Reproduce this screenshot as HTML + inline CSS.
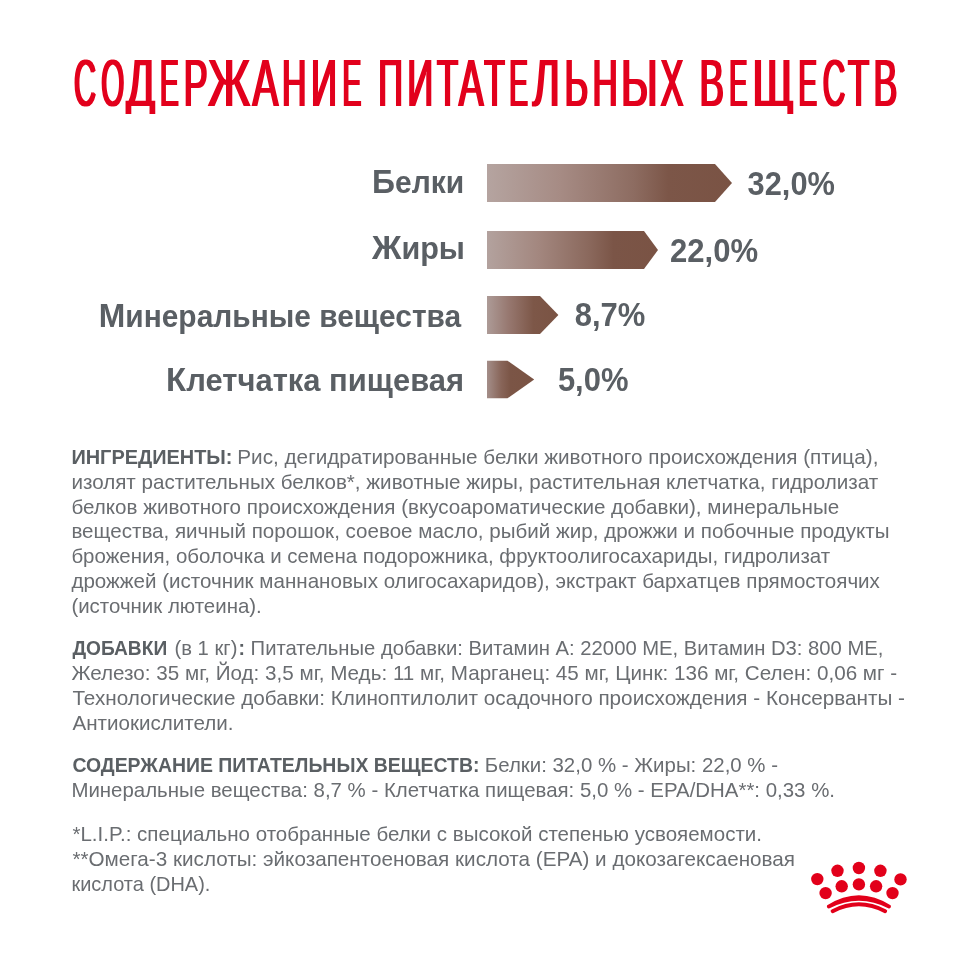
<!DOCTYPE html>
<html><head><meta charset="utf-8"><title>Содержание питательных веществ</title>
<style>
html,body{margin:0;padding:0;background:#ffffff;}
body{width:970px;height:970px;overflow:hidden;}
svg{display:block;}
text{font-family:"Liberation Sans","DejaVu Sans",sans-serif;}
</style></head><body>
<svg width="970" height="970" viewBox="0 0 970 970">
<defs><clipPath id="tc"><rect x="0" y="0" width="970" height="114"/></clipPath><filter id="dx" x="-2%" y="-10%" width="104%" height="120%"><feMorphology operator="dilate" radius="1.45 0.01"/></filter><linearGradient id="g0" x1="0" x2="1" y1="0" y2="0"><stop offset="0" stop-color="#b5a4a0"/><stop offset="0.3" stop-color="#a68b84"/><stop offset="0.6" stop-color="#8d6c61"/><stop offset="0.74" stop-color="#7c5648"/><stop offset="1" stop-color="#7a5344"/></linearGradient><linearGradient id="g1" x1="0" x2="1" y1="0" y2="0"><stop offset="0" stop-color="#b3a29e"/><stop offset="0.3" stop-color="#a3877f"/><stop offset="0.6" stop-color="#8a685c"/><stop offset="0.74" stop-color="#7b5547"/><stop offset="1" stop-color="#7a5344"/></linearGradient><linearGradient id="g2" x1="0" x2="1" y1="0" y2="0"><stop offset="0" stop-color="#ad9b97"/><stop offset="0.3" stop-color="#977870"/><stop offset="0.65" stop-color="#7d5748"/><stop offset="1" stop-color="#7a5343"/></linearGradient><linearGradient id="g3" x1="0" x2="1" y1="0" y2="0"><stop offset="0" stop-color="#a48e89"/><stop offset="0.3" stop-color="#886559"/><stop offset="0.5" stop-color="#7b5546"/><stop offset="1" stop-color="#7a5343"/></linearGradient></defs>
<rect width="970" height="970" fill="#ffffff"/>
<polygon points="487,164 715,164 732,183.0 715,202 487,202" fill="url(#g0)"/><polygon points="487,231 644,231 658,250.0 644,269 487,269" fill="url(#g1)"/><polygon points="487,296 540,296 558.4,315.0 540,334 487,334" fill="url(#g2)"/><polygon points="487,360.7 507.5,360.7 534.2,379.5 507.5,398.3 487,398.3" fill="url(#g3)"/>
<text y="106.00" font-size="67" fill="#e2001a" filter="url(#dx)" clip-path="url(#tc)"><tspan x="73.90" textLength="22.00" lengthAdjust="spacingAndGlyphs">С</tspan><tspan x="101.25" textLength="23.00" lengthAdjust="spacingAndGlyphs">О</tspan><tspan x="126.20" textLength="28.80" lengthAdjust="spacingAndGlyphs">Д</tspan><tspan x="159.90" textLength="18.67" lengthAdjust="spacingAndGlyphs">Е</tspan><tspan x="183.82" textLength="23.87" lengthAdjust="spacingAndGlyphs">Р</tspan><tspan x="208.10" textLength="42.30" lengthAdjust="spacingAndGlyphs">Ж</tspan><tspan x="252.51" textLength="25.78" lengthAdjust="spacingAndGlyphs">А</tspan><tspan x="282.04" textLength="24.43" lengthAdjust="spacingAndGlyphs">Н</tspan><tspan x="311.10" textLength="26.00" lengthAdjust="spacingAndGlyphs">И</tspan><tspan x="342.38" textLength="18.80" lengthAdjust="spacingAndGlyphs">Е</tspan> <tspan x="378.34" textLength="24.62" lengthAdjust="spacingAndGlyphs">П</tspan><tspan x="407.30" textLength="26.00" lengthAdjust="spacingAndGlyphs">И</tspan><tspan x="436.90" textLength="21.10" lengthAdjust="spacingAndGlyphs">Т</tspan><tspan x="458.76" textLength="24.78" lengthAdjust="spacingAndGlyphs">А</tspan><tspan x="484.30" textLength="20.60" lengthAdjust="spacingAndGlyphs">Т</tspan><tspan x="509.20" textLength="18.67" lengthAdjust="spacingAndGlyphs">Е</tspan><tspan x="532.60" textLength="27.41" lengthAdjust="spacingAndGlyphs">Л</tspan><tspan x="564.42" textLength="23.88" lengthAdjust="spacingAndGlyphs">Ь</tspan><tspan x="592.51" textLength="25.29" lengthAdjust="spacingAndGlyphs">Н</tspan><tspan x="620.93" textLength="36.75" lengthAdjust="spacingAndGlyphs">Ы</tspan><tspan x="660.55" textLength="23.00" lengthAdjust="spacingAndGlyphs">Х</tspan> <tspan x="699.53" textLength="24.50" lengthAdjust="spacingAndGlyphs">В</tspan><tspan x="729.28" textLength="18.13" lengthAdjust="spacingAndGlyphs">Е</tspan><tspan x="752.21" textLength="41.78" lengthAdjust="spacingAndGlyphs">Щ</tspan><tspan x="798.52" textLength="18.53" lengthAdjust="spacingAndGlyphs">Е</tspan><tspan x="822.84" textLength="22.59" lengthAdjust="spacingAndGlyphs">С</tspan><tspan x="848.00" textLength="21.20" lengthAdjust="spacingAndGlyphs">Т</tspan><tspan x="873.52" textLength="23.88" lengthAdjust="spacingAndGlyphs">В</tspan></text>
<text x="372.00" y="192.80" font-size="32.4" font-weight="700" fill="#5a5f64" textLength="92.20" lengthAdjust="spacingAndGlyphs">Б<tspan font-size="30.46">елки</tspan></text>
<text x="372.00" y="259.00" font-size="32.4" font-weight="700" fill="#5a5f64" textLength="93.00" lengthAdjust="spacingAndGlyphs">Ж<tspan font-size="30.46">иры</tspan></text>
<text x="98.80" y="326.50" font-size="32.4" font-weight="700" fill="#5a5f64" textLength="362.40" lengthAdjust="spacingAndGlyphs">М<tspan font-size="30.46">инеральные вещества</tspan></text>
<text x="166.10" y="391.00" font-size="32.4" font-weight="700" fill="#5a5f64" textLength="298.00" lengthAdjust="spacingAndGlyphs">К<tspan font-size="30.46">летчатка пищевая</tspan></text>
<text x="747.60" y="194.50" font-size="32.4" font-weight="700" fill="#5a5f64" textLength="87.30" lengthAdjust="spacingAndGlyphs">32,0%</text>
<text x="670.00" y="262.00" font-size="32.4" font-weight="700" fill="#5a5f64" textLength="88.10" lengthAdjust="spacingAndGlyphs">22,0%</text>
<text x="574.70" y="326.40" font-size="32.4" font-weight="700" fill="#5a5f64" textLength="70.50" lengthAdjust="spacingAndGlyphs">8,7%</text>
<text x="557.90" y="390.70" font-size="32.4" font-weight="700" fill="#5a5f64" textLength="70.50" lengthAdjust="spacingAndGlyphs">5,0%</text>
<text x="71.40" y="463.60" font-size="21.0" font-weight="700" fill="#5a5f63" textLength="161.10" lengthAdjust="spacingAndGlyphs">ИНГРЕДИЕНТЫ:</text>
<text x="237.30" y="463.60" font-size="20.2" font-weight="400" fill="#6a6d71" textLength="641.10" lengthAdjust="spacingAndGlyphs">Рис, дегидратированные белки животного происхождения (птица),</text>
<text x="71.40" y="488.55" font-size="20.2" font-weight="400" fill="#6a6d71" textLength="806.80" lengthAdjust="spacingAndGlyphs">изолят растительных белков*, животные жиры, растительная клетчатка, гидролизат</text>
<text x="71.40" y="513.50" font-size="20.2" font-weight="400" fill="#6a6d71" textLength="767.80" lengthAdjust="spacingAndGlyphs">белков животного происхождения (вкусоароматические добавки), минеральные</text>
<text x="71.40" y="538.45" font-size="20.2" font-weight="400" fill="#6a6d71" textLength="818.10" lengthAdjust="spacingAndGlyphs">вещества, яичный порошок, соевое масло, рыбий жир, дрожжи и побочные продукты</text>
<text x="71.40" y="563.40" font-size="20.2" font-weight="400" fill="#6a6d71" textLength="758.70" lengthAdjust="spacingAndGlyphs">брожения, оболочка и семена подорожника, фруктоолигосахариды, гидролизат</text>
<text x="71.40" y="588.35" font-size="20.2" font-weight="400" fill="#6a6d71" textLength="808.50" lengthAdjust="spacingAndGlyphs">дрожжей (источник маннановых олигосахаридов), экстракт бархатцев прямостоячих</text>
<text x="71.40" y="613.30" font-size="20.2" font-weight="400" fill="#6a6d71" textLength="190.40" lengthAdjust="spacingAndGlyphs">(источник лютеина).</text>
<text x="72.40" y="655.30" font-size="21.0" font-weight="700" fill="#5a5f63" textLength="94.80" lengthAdjust="spacingAndGlyphs">ДОБАВКИ</text>
<text x="174.50" y="655.30" font-size="20.2" font-weight="400" fill="#6a6d71" textLength="63.00" lengthAdjust="spacingAndGlyphs">(в 1 кг)</text>
<text x="238.40" y="655.30" font-size="20.2" font-weight="700" fill="#5a5f63" textLength="6.50" lengthAdjust="spacingAndGlyphs">:</text>
<text x="250.60" y="655.30" font-size="20.2" font-weight="400" fill="#6a6d71" textLength="632.90" lengthAdjust="spacingAndGlyphs">Питательные добавки: Витамин А: 22000 МЕ, Витамин D3: 800 МЕ,</text>
<text x="71.40" y="680.25" font-size="20.2" font-weight="400" fill="#6a6d71" textLength="825.80" lengthAdjust="spacingAndGlyphs">Железо: 35 мг, Йод: 3,5 мг, Медь: 11 мг, Марганец: 45 мг, Цинк: 136 мг, Селен: 0,06 мг -</text>
<text x="72.40" y="705.20" font-size="20.2" font-weight="400" fill="#6a6d71" textLength="832.60" lengthAdjust="spacingAndGlyphs">Технологические добавки: Клиноптилолит осадочного происхождения - Консерванты -</text>
<text x="72.40" y="730.15" font-size="20.2" font-weight="400" fill="#6a6d71" textLength="161.10" lengthAdjust="spacingAndGlyphs">Антиокислители.</text>
<text x="72.40" y="771.60" font-size="21.0" font-weight="700" fill="#5a5f63" textLength="407.10" lengthAdjust="spacingAndGlyphs">СОДЕРЖАНИЕ ПИТАТЕЛЬНЫХ ВЕЩЕСТВ:</text>
<text x="484.80" y="771.60" font-size="20.2" font-weight="400" fill="#6a6d71" textLength="293.20" lengthAdjust="spacingAndGlyphs">Белки: 32,0 % - Жиры: 22,0 % -</text>
<text x="71.40" y="796.55" font-size="20.2" font-weight="400" fill="#6a6d71" textLength="763.60" lengthAdjust="spacingAndGlyphs">Минеральные вещества: 8,7 % - Клетчатка пищевая: 5,0 % - EPA/DHA**: 0,33 %.</text>
<text x="72.40" y="840.60" font-size="20.2" font-weight="400" fill="#6a6d71" textLength="689.60" lengthAdjust="spacingAndGlyphs">*L.I.P.: специально отобранные белки с высокой степенью усвояемости.</text>
<text x="72.40" y="865.55" font-size="20.2" font-weight="400" fill="#6a6d71" textLength="722.60" lengthAdjust="spacingAndGlyphs">**Омега-3 кислоты: эйкозапентоеновая кислота (EPA) и докозагексаеновая</text>
<text x="71.40" y="890.50" font-size="20.2" font-weight="400" fill="#6a6d71" textLength="139.00" lengthAdjust="spacingAndGlyphs">кислота (DHA).</text>
<circle cx="817.3" cy="879.1" r="6.2" fill="#e2001a"/><circle cx="837.5" cy="870.8" r="6.2" fill="#e2001a"/><circle cx="858.9" cy="868" r="6.2" fill="#e2001a"/><circle cx="880.4" cy="870.8" r="6.2" fill="#e2001a"/><circle cx="900.5" cy="879.4" r="6.2" fill="#e2001a"/><circle cx="825.6" cy="893.1" r="6.2" fill="#e2001a"/><circle cx="841.7" cy="886.3" r="6.2" fill="#e2001a"/><circle cx="858.9" cy="884.4" r="6.2" fill="#e2001a"/><circle cx="876.1" cy="886.3" r="6.2" fill="#e2001a"/><circle cx="892.5" cy="893.1" r="6.2" fill="#e2001a"/><path d="M827.2,905.3 Q858.9,885.3 890.6,905.3 A2,2 0 0 1 888.8,908.4 Q858.9,892.9 829,908.4 A2,2 0 0 1 827.2,905.3 Z" fill="#e2001a"/><path d="M832.6,911.2 Q858.9,897.4 885.2,911.2" stroke="#e2001a" stroke-width="3.9" fill="none" stroke-linecap="round"/>
</svg>
</body></html>
